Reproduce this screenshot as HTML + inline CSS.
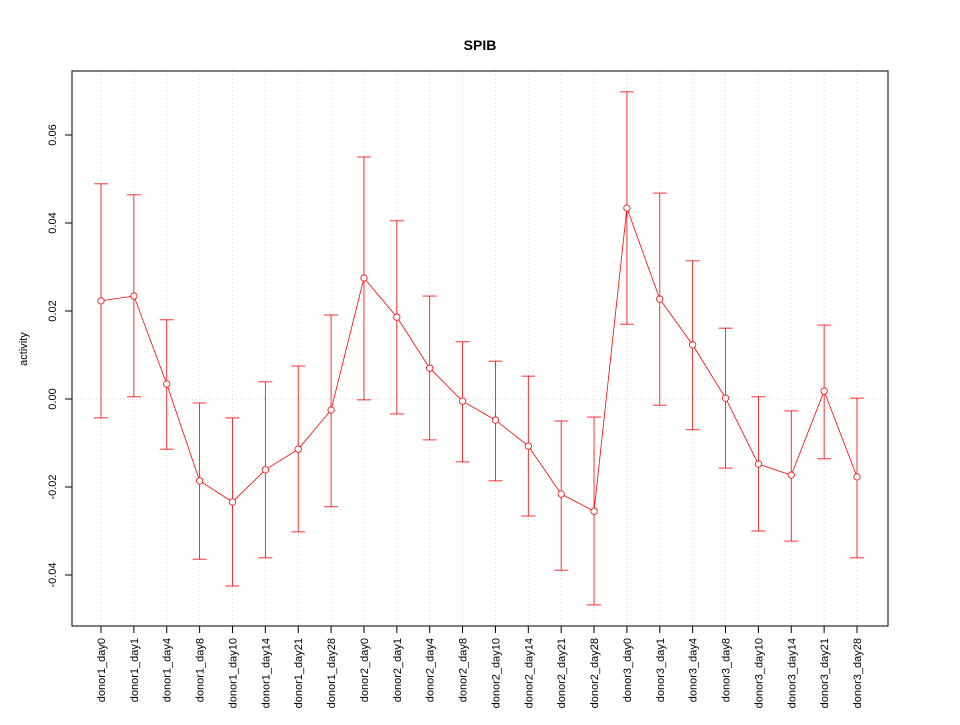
<!DOCTYPE html>
<html><head><meta charset="utf-8"><style>
body{margin:0;background:#fff}
svg text{font-family:"Liberation Sans",sans-serif}
</style></head><body>
<svg id="chart" width="960" height="720" xmlns="http://www.w3.org/2000/svg">
<rect width="960" height="720" fill="#fff"/>
<text x="480" y="50" text-anchor="middle" font-size="14" font-weight="bold">SPIB</text>
<text transform="translate(27,349) rotate(-90)" text-anchor="middle" font-size="11">activity</text>
<g id="grid"></g><g id="axes"></g><g id="marks"></g>
<rect x="72" y="71" width="816" height="555" fill="none" stroke="#000"/>
</svg>
<script>
const categories=["donor1_day0","donor1_day1","donor1_day4","donor1_day8","donor1_day10","donor1_day14","donor1_day21","donor1_day28","donor2_day0","donor2_day1","donor2_day4","donor2_day8","donor2_day10","donor2_day14","donor2_day21","donor2_day28","donor3_day0","donor3_day1","donor3_day4","donor3_day8","donor3_day10","donor3_day14","donor3_day21","donor3_day28"];
const values=[0.0223,0.0234,0.0034,-0.0186,-0.0234,-0.0161,-0.0114,-0.0025,0.0275,0.0186,0.0070,-0.0005,-0.0048,-0.0107,-0.0216,-0.0255,0.0434,0.0227,0.0123,0.0002,-0.0148,-0.0173,0.0018,-0.0177];
const upper=[0.0489,0.0464,0.0180,-0.0009,-0.0043,0.0039,0.0075,0.0191,0.0550,0.0405,0.0234,0.0130,0.0086,0.0052,-0.0050,-0.0041,0.0698,0.0468,0.0314,0.0161,0.0005,-0.0027,0.0168,0.0002];
const lower=[-0.0043,0.0005,-0.0114,-0.0364,-0.0425,-0.0361,-0.0302,-0.0245,-0.0002,-0.0034,-0.0093,-0.0143,-0.0186,-0.0266,-0.0389,-0.0468,0.0170,-0.0014,-0.0070,-0.0157,-0.0300,-0.0323,-0.0136,-0.0361];
const yTicks=[-0.04,-0.02,0.00,0.02,0.04,0.06];
const yTickLabels=["-0.04","-0.02","0.00","0.02","0.04","0.06"];
const NS="http://www.w3.org/2000/svg";
const x=i=>101+i*(857-101)/(categories.length-1);
const y=v=>399-v*4400;
function mk(tag,attrs,parent){const e=document.createElementNS(NS,tag);for(const k in attrs)e.setAttribute(k,attrs[k]);document.getElementById(parent).appendChild(e);return e;}
categories.forEach((c,i)=>{
 const g=mk("line",{x1:x(i),x2:x(i),y1:71,y2:626,stroke:"#d3d3d3","stroke-dasharray":"1,3"},"grid");
 
 
 const t=mk("line",{x1:x(i),x2:x(i),y1:626,y2:633,stroke:"#000"},"axes");
 
 
 const l=mk("text",{transform:`translate(${x(i)+4},638) rotate(-90)`,"text-anchor":"end","font-size":"11"},"axes");
 l.textContent=c;
 
 
});
const h=mk("line",{x1:72,x2:888,y1:y(0),y2:y(0),stroke:"#d3d3d3","stroke-dasharray":"1,3"},"grid");


yTicks.forEach((v,i)=>{
 const t=mk("line",{x1:65,x2:72,y1:y(v),y2:y(v),stroke:"#000"},"axes");
 
 
 const l=mk("text",{transform:`translate(56,${y(v)}) rotate(-90)`,"text-anchor":"middle","font-size":"11"},"axes");
 l.textContent=yTickLabels[i];
 
 
});
const line=mk("polyline",{points:values.map((v,i)=>x(i)+","+y(v)).join(" "),fill:"none",stroke:"#ff0000","stroke-width":"0.8"},"marks");


values.forEach((v,i)=>{
 const e=mk("line",{x1:x(i),x2:x(i),y1:y(upper[i]),y2:y(lower[i]),stroke:"#ff0000","stroke-width":"0.8"},"marks");
 
 
 [upper[i],lower[i]].forEach(b=>{
  const c=mk("line",{x1:x(i)-7,x2:x(i)+7,y1:y(b),y2:y(b),stroke:"#ff0000","stroke-width":"0.8"},"marks");
  
  
 });
 const p=mk("circle",{cx:x(i),cy:y(v),r:3.2,fill:"#fff",stroke:"#ff0000","stroke-width":"0.8"},"marks");
 
 
});
</script>
</body></html>
